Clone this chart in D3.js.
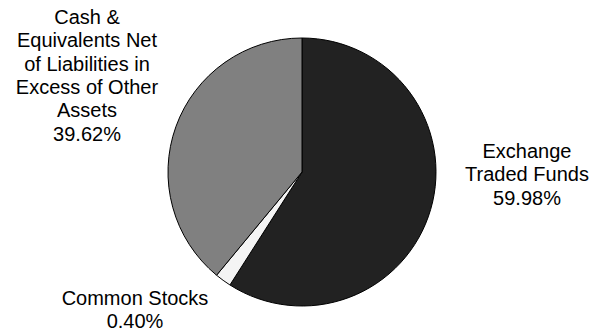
<!DOCTYPE html>
<html><head><meta charset="utf-8">
<script src="https://cdn.jsdelivr.net/npm/d3@7"></script>
<style>html,body{margin:0;padding:0;background:#fff;}svg{display:block;}</style>
</head><body>
<svg id="chart" width="595" height="333"></svg>
<script>
// Data
const categories = ["Exchange Traded Funds", "Common Stocks", "Cash & Equivalents Net of Liabilities in Excess of Other Assets"];
const values = [59.98, 0.40, 39.62];
const labelLines = [
  ["Exchange", "Traded Funds", "59.98%"],
  ["Common Stocks", "0.40%"],
  ["Cash &", "Equivalents Net", "of Liabilities in", "Excess of Other", "Assets", "39.62%"]
];
const colors = ["#222222", "#f4f4f4", "#808080"];

const svg = d3.select("#chart");
const cx = 302, cy = 172, r = 134;
// the original renders very small slices with a minimum visible share
const minShare = 2;
const pie = d3.pie().sort(null).value(d => Math.max(d, minShare));
const arcs = pie(values);
const arc = d3.arc().innerRadius(0).outerRadius(r);

const g = svg.append("g").attr("transform", `translate(${cx},${cy})`);
g.selectAll("path").data(arcs).enter().append("path")
  .attr("d", arc)
  .attr("fill", (d, i) => colors[i])
  .attr("stroke", "#000")
  .attr("stroke-width", 1)
  .attr("stroke-linejoin", "round");

const labelPos = [
  {x: 527, y: 158},
  {x: 135, y: 305},
  {x: 87, y: 24}
];
const lh = 23.3;
labelLines.forEach((lines, i) => {
  const t = svg.append("text")
    .attr("text-anchor", "middle")
    .attr("font-family", "Liberation Sans, Arial, sans-serif")
    .attr("font-size", 20)
    .attr("fill", "#000");
  lines.forEach((ln, j) => {
    t.append("tspan").attr("x", labelPos[i].x).attr("y", labelPos[i].y + j * lh).text(ln);
  });
});
</script>
</body></html>
